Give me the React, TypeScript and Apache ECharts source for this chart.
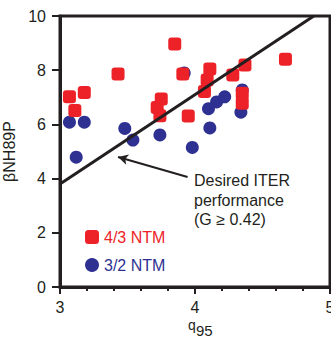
import React, { useEffect, useRef } from "react";
import * as echarts from "echarts";

// q95 / βN·H89P pairs for each tearing-mode class
const ntm43: number[][] = [
  [3.07, 7.02], [3.11, 6.51], [3.18, 7.18], [3.43, 7.86],
  [3.72, 6.62], [3.75, 6.94], [3.74, 6.32], [3.85, 8.97],
  [3.91, 7.86], [3.95, 6.31], [4.07, 7.21], [4.09, 7.64],
  [4.11, 8.04], [4.28, 7.82], [4.37, 8.19], [4.35, 7.15],
  [4.35, 6.78], [4.67, 8.40],
];
const ntm32: number[][] = [
  [3.07, 6.08], [3.18, 6.08], [3.12, 4.79], [3.48, 5.85],
  [3.54, 5.42], [3.74, 5.61], [3.92, 7.90], [3.98, 5.15],
  [4.10, 6.58], [4.16, 6.83], [4.22, 7.02], [4.11, 5.87],
  [4.35, 7.27], [4.34, 6.45],
];
// ITER target line (G = 0.42) and the annotation arrow
const iterLine: number[][] = [[3, 3.8], [4.88, 10]];
const arrowFrom = [3.945, 4.06];
const arrowTo = [3.43, 4.8];
const seriesNames = ["4/3 NTM", "3/2 NTM"];
const xTicks = [3, 4, 5];
const yTicks = [0, 2, 4, 6, 8, 10];

const RED = "#ec2228";
const BLUE = "#2e3192";
const INK = "#231f20";
const FONT = "'Liberation Sans', Arial, Helvetica, sans-serif";

export default function App() {
  const ref = useRef<HTMLDivElement>(null);

  useEffect(() => {
    document.body.style.margin = "0";
    if (!ref.current) return;
    const chart = echarts.init(ref.current, undefined, { renderer: "svg" });
    chart.setOption({
      animation: false,
      backgroundColor: "#ffffff",
      textStyle: { fontFamily: FONT },
      grid: {
        left: 60,
        right: 1,
        top: 16,
        bottom: 52,
        outerBoundsMode: "none",
        containLabel: false,
        show: true,
        borderColor: INK,
        borderWidth: 3,
      },
      legend: {
        orient: "vertical",
        left: 80,
        top: 224,
        itemWidth: 14,
        itemHeight: 14,
        itemGap: 12,
        itemStyle: { borderWidth: 0 },
        textStyle: { fontSize: 16, fontFamily: FONT },
        data: [
          { name: seriesNames[0], textStyle: { color: RED } },
          { name: seriesNames[1], textStyle: { color: BLUE } },
        ],
      },
      xAxis: {
        type: "value",
        min: xTicks[0],
        max: xTicks[xTicks.length - 1],
        interval: 1,
        axisLine: { show: true, lineStyle: { color: INK, width: 3 } },
        axisTick: { show: true, length: 7, lineStyle: { color: INK, width: 2 } },
        minorTick: { show: true, splitNumber: 5, length: 4, lineStyle: { color: INK, width: 2 } },
        splitLine: { show: false },
        axisLabel: { fontSize: 16, color: INK, margin: 12, fontFamily: FONT },
      },
      yAxis: {
        type: "value",
        min: yTicks[0],
        max: yTicks[yTicks.length - 1],
        interval: 2,
        name: "βNH89P",
        nameLocation: "middle",
        nameGap: 35,
        nameTextStyle: { fontSize: 16, color: INK, fontFamily: FONT },
        axisLine: { show: true, lineStyle: { color: INK, width: 3 } },
        axisTick: { show: true, length: 8, lineStyle: { color: INK, width: 2 } },
        splitLine: { show: false },
        axisLabel: { fontSize: 16, color: INK, margin: 14, fontFamily: FONT },
      },
      series: [
        {
          name: seriesNames[1],
          type: "scatter",
          data: ntm32,
          symbol: "circle",
          symbolSize: 13,
          itemStyle: { color: BLUE, opacity: 1 },
          z: 2,
        },
        {
          name: seriesNames[0],
          type: "scatter",
          data: ntm43,
          symbol: "roundRect",
          symbolSize: 13,
          itemStyle: { color: RED, opacity: 1 },
          z: 3,
        },
        {
          name: "iter",
          type: "line",
          data: iterLine,
          symbol: "none",
          lineStyle: { color: INK, width: 3 },
          z: 4,
          silent: true,
          markLine: {
            silent: true,
            symbol: ["none", "arrow"],
            symbolSize: [8, 10],
            label: { show: false },
            lineStyle: { color: INK, width: 2, type: "solid" },
            data: [[{ coord: arrowFrom }, { coord: arrowTo }]],
          },
        },
      ],
      graphic: [
        {
          type: "text",
          left: 194,
          top: 171,
          style: {
            text: "Desired ITER\nperformance\n(G ≥ 0.42)",
            fontSize: 16,
            lineHeight: 19.5,
            fontFamily: FONT,
            fill: INK,
          },
        },
        {
          type: "text",
          x: 188,
          y: 324.5,
          style: {
            text: "q",
            fontSize: 14,
            fontFamily: FONT,
            fill: INK,
            verticalAlign: "middle",
          },
        },
        {
          type: "text",
          x: 196,
          y: 330.5,
          style: {
            text: "95",
            fontSize: 15,
            fontFamily: FONT,
            fill: INK,
            verticalAlign: "middle",
          },
        },
      ],
    });
    return () => chart.dispose();
  }, []);

  return <div ref={ref} style={{ width: 331, height: 339 }} />;
}
